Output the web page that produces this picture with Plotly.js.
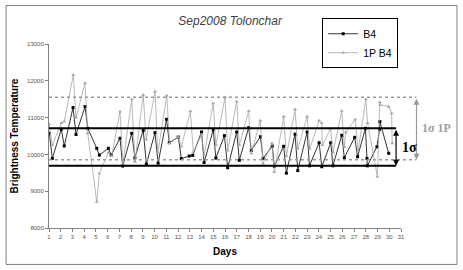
<!DOCTYPE html>
<html>
<head>
<meta charset="utf-8">
<script src="https://cdn.plot.ly/plotly-3.0.1.min.js"></script>
<style>html,body{margin:0;padding:0;background:#fff;}#chart{width:463px;height:270px;}</style>
</head>
<body>
<div id="chart"></div>
<script>
// B4 series (day, brightness temperature)
var b4Days = [1.03,1.28,2.05,2.3,3.05,3.3,4.07,4.3,5.07,5.29,6.06,6.3,7.05,7.28,8.05,8.32,9.03,9.3,10.03,10.3,
  11.02,11.25,12.02,12.28,12.95,13.25,14.0,14.22,15.0,15.22,15.95,16.23,17.0,17.22,18.02,18.24,19.02,19.24,20.03,20.2,
  21.0,21.23,21.97,22.2,23.0,23.2,24.02,24.25,25.01,25.2,25.95,26.17,27.05,27.3,27.97,28.1,28.13,28.95,29.17,29.2,29.95];
var b4Vals = [10573,9890,10682,10230,11272,10540,11300,10710,10165,9982,10165,9982,10438,9684,10574,9910,10655,9735,10591,9760,
  10955,10320,10470,9885,9955,9974,10610,9780,10670,9900,10510,9637,10610,9840,10730,10110,10480,9890,10227,9675,
  10220,9490,10550,9560,10610,9690,10318,9664,10318,9690,10520,9910,10464,9936,10710,9892,9690,10208,10683,10890,10030];

// 1P B4 series
var p1Days = [1.0,1.28,2.05,2.3,3.07,3.3,4.07,4.3,5.07,5.29,6.06,6.34,7.05,7.3,8.05,8.33,9.03,9.28,10.04,10.27,
  11.04,11.27,12.02,12.28,13.05,13.3,14.0,14.22,15.0,15.22,16.0,16.23,17.0,17.22,18.02,18.24,19.01,19.24,20.0,20.2,
  21.0,21.23,21.97,22.2,23.0,23.22,24.02,24.25,24.3,25.0,25.2,25.95,26.17,26.3,27.1,27.35,28.0,28.15,28.99,29.19,29.22,29.95,30.2,30.25];
var p1Vals = [10820,10250,10850,10900,12163,11000,11937,10574,8710,9483,10050,9950,11163,9750,11500,9800,11618,10400,11709,10030,
  11600,10300,10470,10210,11170,10060,10540,9980,11390,10250,11550,10100,11436,10250,11180,10030,10918,9750,10300,9520,
  11027,9950,11227,10150,11027,10150,10918,10850,10250,10700,10050,11180,10200,10600,10950,10100,11500,10850,9391,11420,11350,11300,11118,10300];

// sigma band limits
var sigmaB4 = [9691, 10709];
var sigma1P = [9855, 11555];

var xTicks = [];
for (var d = 1; d <= 31; d++) xTicks.push(d);
var yTicks = [8000, 9000, 10000, 11000, 12000, 13000];
var yTickText = ['8000', '9000', '10000', '11000', '12000', '13000'];

var traces = [
  {x: b4Days, y: b4Vals, name: 'B4', type: 'scatter', mode: 'lines+markers',
   line: {color: '#000000', width: 0.8}, marker: {symbol: 'square', size: 3, color: '#000000'}},
  {x: p1Days, y: p1Vals, name: '1P B4', type: 'scatter', mode: 'lines+markers',
   line: {color: '#a6a6a6', width: 0.8}, marker: {symbol: 'triangle-up', size: 3.5, color: '#a6a6a6'}}
];

var xEndB4 = 0.986, xEnd1P = 1.044;
var shapes = [
  {type: 'rect', xref: 'paper', yref: 'paper', x0: -0.122, x1: 1.159, y0: -0.198, y1: 1.209,
   line: {color: '#808080', width: 1}, fillcolor: 'rgba(0,0,0,0)', layer: 'below'},
  {type: 'line', xref: 'paper', yref: 'y', x0: 0, x1: xEnd1P, y0: sigma1P[1], y1: sigma1P[1],
   line: {color: '#9a9a9a', width: 1.5, dash: 'dot'}},
  {type: 'line', xref: 'paper', yref: 'y', x0: 0, x1: xEnd1P, y0: sigma1P[0], y1: sigma1P[0],
   line: {color: '#9a9a9a', width: 1.5, dash: 'dot'}},
  {type: 'line', xref: 'paper', yref: 'y', x0: 0, x1: xEndB4, y0: sigmaB4[1], y1: sigmaB4[1],
   line: {color: '#000000', width: 2}},
  {type: 'line', xref: 'paper', yref: 'y', x0: 0, x1: xEndB4, y0: sigmaB4[0], y1: sigmaB4[0],
   line: {color: '#000000', width: 2}}
];

var annotations = [
  {xref: 'paper', yref: 'y', x: xEndB4, y: sigmaB4[0], axref: 'pixel', ayref: 'y', ax: 0, ay: sigmaB4[1],
   text: '', showarrow: true, arrowhead: 2, arrowside: 'end+start', arrowsize: 1, arrowwidth: 1.2, arrowcolor: '#000000'},
  {xref: 'paper', yref: 'y', x: xEnd1P, y: sigma1P[0], axref: 'pixel', ayref: 'y', ax: 0, ay: sigma1P[1],
   text: '', showarrow: true, arrowhead: 2, arrowside: 'end+start', arrowsize: 1, arrowwidth: 1.2, arrowcolor: '#9a9a9a'},
  {xref: 'paper', yref: 'y', x: 0.998, y: (sigmaB4[0] + sigmaB4[1]) / 2, xanchor: 'left', yanchor: 'middle',
   text: '<b>1σ</b>', showarrow: false, font: {family: 'Liberation Serif, serif', size: 14, color: '#000000'}},
  {xref: 'paper', yref: 'y', x: 1.055, y: (sigma1P[0] + sigma1P[1]) / 2, xanchor: 'left', yanchor: 'middle',
   text: '<b>1σ 1P</b>', showarrow: false, font: {family: 'Liberation Serif, serif', size: 12, color: '#a0a0a0'}}
];

var layout = {
  width: 463, height: 270,
  margin: {l: 49, r: 62, t: 44, b: 42},
  paper_bgcolor: '#ffffff', plot_bgcolor: '#ffffff',
  font: {family: 'Liberation Sans, Arial, sans-serif'},
  title: {text: '<i>Sep2008 Tolonchar</i>', x: 0.497, xanchor: 'center', y: 0.922, yanchor: 'middle',
          font: {family: 'Liberation Sans, Arial, sans-serif', size: 12, color: '#404040'}},
  xaxis: {range: [1, 31], tickvals: xTicks, ticktext: xTicks.map(String), showgrid: false, zeroline: false,
          showline: true, linecolor: '#808080', linewidth: 1, ticks: 'outside', ticklen: 3, tickcolor: '#808080',
          tickfont: {size: 6, color: '#555555'},
          title: {text: '<b>Days</b>', font: {size: 10, color: '#000000'}, standoff: 8}},
  yaxis: {range: [8000, 13000], tickvals: yTicks, ticktext: yTickText, showgrid: false, zeroline: false,
          showline: true, linecolor: '#808080', linewidth: 1, ticks: 'outside', ticklen: 3, tickcolor: '#808080',
          tickfont: {size: 6, color: '#555555'},
          title: {text: '<b>Brightness Temperature</b>', font: {size: 10, color: '#000000'}, standoff: 6}},
  legend: {x: 0.992, xanchor: 'right', y: 1.14, yanchor: 'top', bordercolor: '#000000', borderwidth: 1,
           bgcolor: '#ffffff', font: {size: 10.5, color: '#000000'}, itemwidth: 30, tracegroupgap: 0},
  showlegend: true,
  shapes: shapes,
  annotations: annotations
};

Plotly.newPlot('chart', traces, layout, {displayModeBar: false, staticPlot: true});
</script>
</body>
</html>
